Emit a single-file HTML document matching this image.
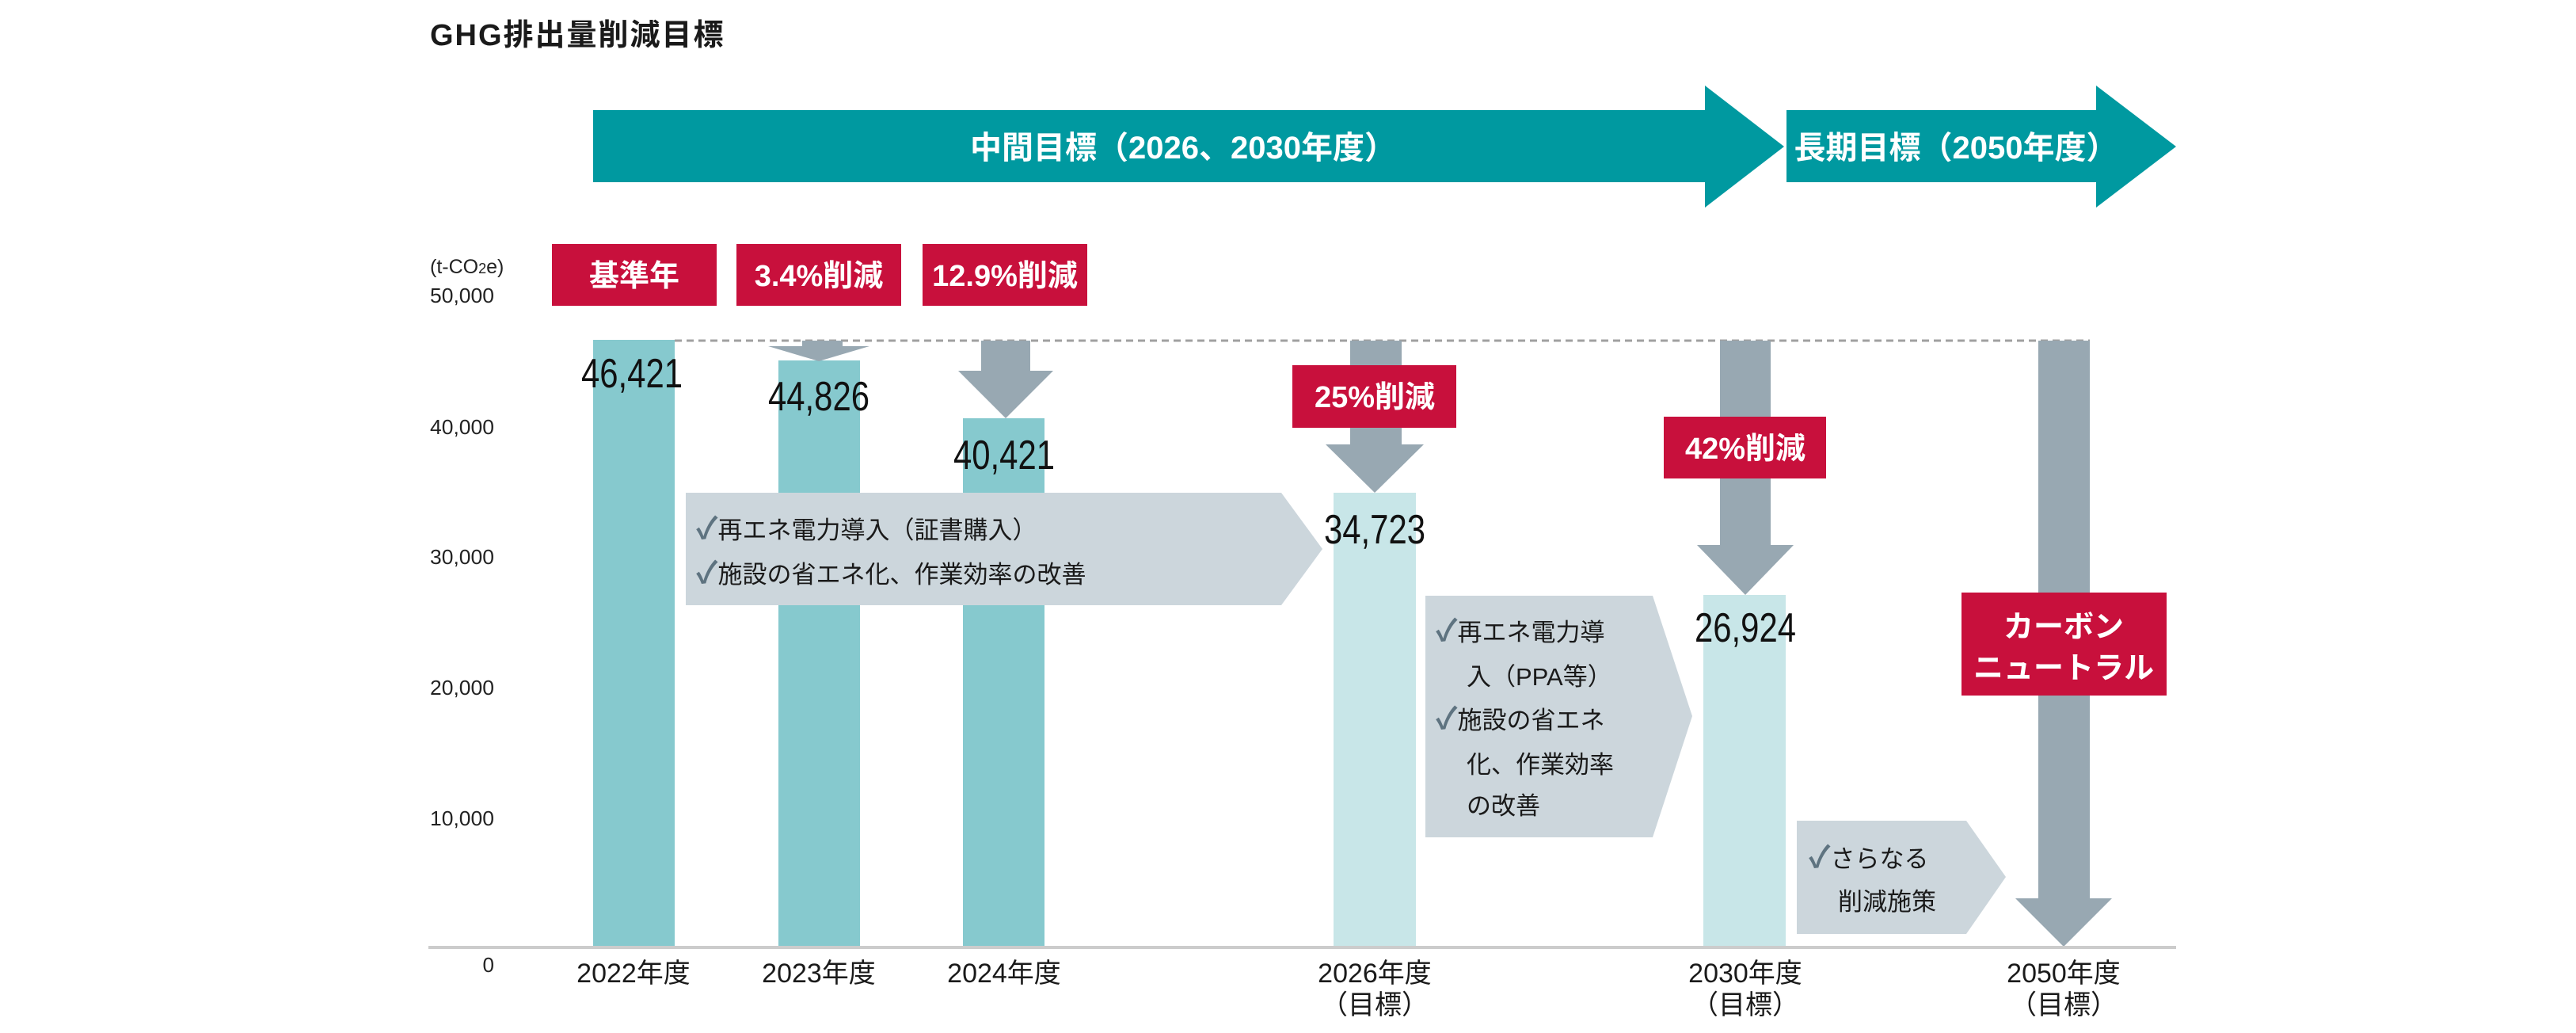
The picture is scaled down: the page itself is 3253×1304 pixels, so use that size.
<!DOCTYPE html>
<html><head><meta charset="utf-8"><style>
html,body{margin:0;padding:0;background:#fff;}
svg{display:block;}
text{font-family:"Liberation Sans","Noto Sans CJK JP",sans-serif;}
</style></head><body>
<svg width="3253" height="1304" viewBox="0 0 3253 1304" xmlns="http://www.w3.org/2000/svg">
<rect width="3253" height="1304" fill="#fff"/>
<text x="543" y="57" font-size="38" font-weight="bold" fill="#1a1a1a" letter-spacing="2">GHG排出量削減目標</text>

<polygon points="749,139 2153,139 2153,108 2253,185 2153,262 2153,230 749,230" fill="#0099a0"/>
<polygon points="2256,139 2647,139 2647,108 2748,185 2647,262 2647,230 2256,230" fill="#0099a0"/>
<text x="1494" y="200" font-size="40" font-weight="bold" fill="#fff" text-anchor="middle">中間目標（2026、2030年度）</text>
<text x="2470" y="200" font-size="40" font-weight="bold" fill="#fff" text-anchor="middle">長期目標（2050年度）</text>

<text x="543" y="345" font-size="25" fill="#222">(t-CO<tspan font-size="18">2</tspan>e)</text>
<g font-size="26" fill="#222" text-anchor="end">
<text x="624" y="382" textLength="81" lengthAdjust="spacingAndGlyphs">50,000</text>
<text x="624" y="548" textLength="81" lengthAdjust="spacingAndGlyphs">40,000</text>
<text x="624" y="712" textLength="81" lengthAdjust="spacingAndGlyphs">30,000</text>
<text x="624" y="877" textLength="81" lengthAdjust="spacingAndGlyphs">20,000</text>
<text x="624" y="1042" textLength="81" lengthAdjust="spacingAndGlyphs">10,000</text>
<text x="624" y="1227">0</text>
</g>

<line x1="852" y1="430" x2="2639" y2="430" stroke="#a0a0a0" stroke-width="3" stroke-dasharray="9,6"/>

<rect x="749" y="429" width="103" height="766" fill="#86c9ce"/>
<rect x="983" y="455" width="103" height="740" fill="#86c9ce"/>
<rect x="1216" y="528" width="103" height="667" fill="#86c9ce"/>
<rect x="1684" y="622" width="104" height="573" fill="#c8e6e8"/>
<rect x="2151" y="751" width="104" height="444" fill="#c8e6e8"/>

<polygon points="1013,430 1064,430 1064,437 1098,437 1034,456 970,437 1013,437" fill="#98a8b2"/>
<polygon points="1239,430 1301,430 1301,468 1330,468 1270,528 1210,468 1239,468" fill="#98a8b2"/>
<polygon points="1705,430 1770,430 1770,561 1798,561 1736,622 1674,561 1705,561" fill="#98a8b2"/>
<polygon points="2172,430 2236,430 2236,688 2265,688 2204,751 2143,688 2172,688" fill="#98a8b2"/>
<polygon points="2574,430 2639,430 2639,1134 2667,1134 2606,1195 2545,1134 2574,1134" fill="#98a8b2"/>

<polygon points="866,622 1618,622 1670,693 1618,764 866,764" fill="#ccd6dc"/>
<polygon points="1800,752 2087,752 2137,904 2087,1057 1800,1057" fill="#ccd6dc"/>
<polygon points="2269,1036 2483,1036 2533,1107 2483,1179 2269,1179" fill="#ccd6dc"/>

<g font-size="31" fill="#1a1a1a">
<text x="879" y="680"><tspan fill="#5e7380" font-weight="bold" font-size="38">✓</tspan>再エネ電力導入（証書購入）</text>
<text x="879" y="736"><tspan fill="#5e7380" font-weight="bold" font-size="38">✓</tspan>施設の省エネ化、作業効率の改善</text>
<text x="1813" y="809"><tspan fill="#5e7380" font-weight="bold" font-size="38">✓</tspan>再エネ電力導</text>
<text x="1852" y="865">入（PPA等）</text>
<text x="1813" y="920"><tspan fill="#5e7380" font-weight="bold" font-size="38">✓</tspan>施設の省エネ</text>
<text x="1852" y="976">化、作業効率</text>
<text x="1852" y="1028">の改善</text>
<text x="2284" y="1095"><tspan fill="#5e7380" font-weight="bold" font-size="38">✓</tspan>さらなる</text>
<text x="2321" y="1149">削減施策</text>
</g>

<g fill="#c8103c">
<rect x="697" y="308" width="208" height="78"/>
<rect x="930" y="308" width="208" height="78"/>
<rect x="1165" y="308" width="208" height="78"/>
<rect x="1632" y="461" width="207" height="79"/>
<rect x="2101" y="526" width="205" height="78"/>
<rect x="2477" y="748" width="259" height="130"/>
</g>
<g font-size="38" font-weight="bold" fill="#fff" text-anchor="middle">
<text x="801" y="361">基準年</text>
<text x="1034" y="361">3.4%削減</text>
<text x="1269" y="361">12.9%削減</text>
<text x="1736" y="514">25%削減</text>
<text x="2204" y="579">42%削減</text>
<text x="2606" y="804">カーボン</text>
<text x="2606" y="856">ニュートラル</text>
</g>

<g font-size="52" fill="#111" text-anchor="middle">
<text x="798" y="489" textLength="128" lengthAdjust="spacingAndGlyphs">46,421</text>
<text x="1034" y="518" textLength="128" lengthAdjust="spacingAndGlyphs">44,826</text>
<text x="1268" y="592" textLength="128" lengthAdjust="spacingAndGlyphs">40,421</text>
<text x="1736" y="686" textLength="128" lengthAdjust="spacingAndGlyphs">34,723</text>
<text x="2204" y="810" textLength="128" lengthAdjust="spacingAndGlyphs">26,924</text>
</g>

<line x1="541" y1="1196" x2="2748" y2="1196" stroke="#cccccc" stroke-width="4"/>

<g font-size="34" fill="#1a1a1a" text-anchor="middle">
<text x="800" y="1240">2022年度</text>
<text x="1034" y="1240">2023年度</text>
<text x="1268" y="1240">2024年度</text>
<text x="1736" y="1240">2026年度</text>
<text x="1736" y="1280">（目標）</text>
<text x="2204" y="1240">2030年度</text>
<text x="2204" y="1280">（目標）</text>
<text x="2606" y="1240">2050年度</text>
<text x="2606" y="1280">（目標）</text>
</g>
</svg>
</body></html>
